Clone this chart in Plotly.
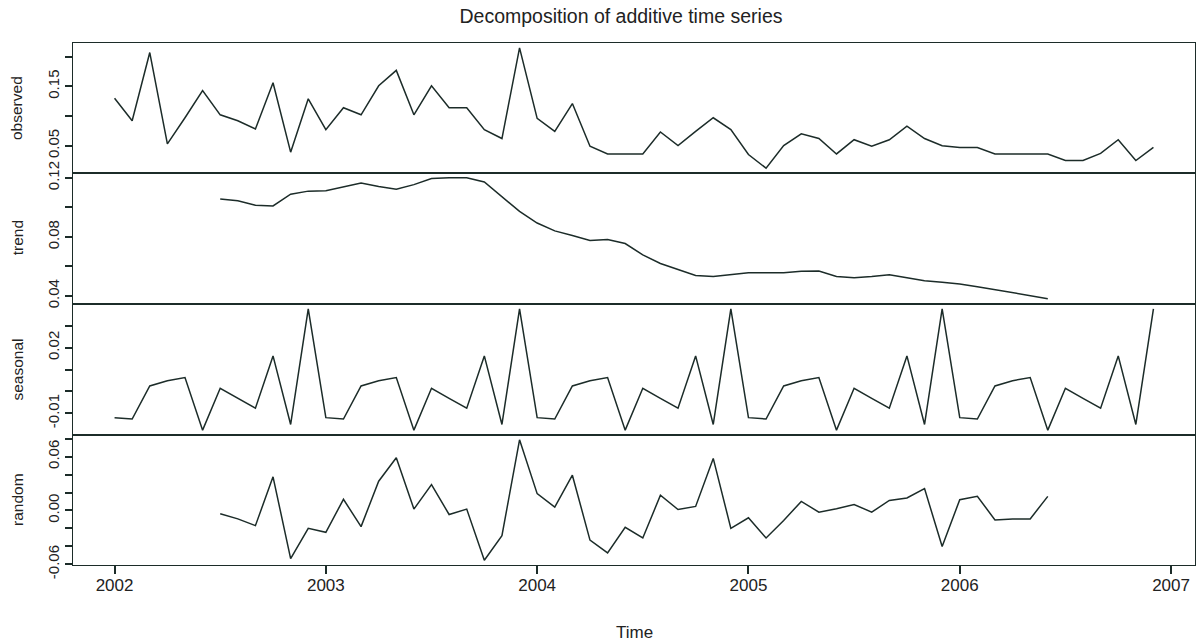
import plotly.graph_objects as go
from plotly.subplots import make_subplots

# Monthly series, January 2002 .. December 2006
START_YEAR = 2002
FREQUENCY = 12

observed = [
    0.130, 0.092, 0.207, 0.053, 0.097, 0.143, 0.102, 0.092, 0.078, 0.156, 0.039, 0.129,
    0.077, 0.114, 0.102, 0.151, 0.177, 0.102, 0.151, 0.114, 0.114, 0.077, 0.062, 0.215,
    0.096, 0.074, 0.121, 0.049, 0.036, 0.036, 0.036, 0.073, 0.050, 0.074, 0.097, 0.077,
    0.035, 0.012, 0.050, 0.070, 0.062, 0.036, 0.060, 0.049, 0.060, 0.083, 0.062, 0.050,
    0.047, 0.047, 0.036, 0.036, 0.036, 0.036, 0.025, 0.025, 0.037, 0.060, 0.025, 0.047,
]

# centred moving average: undefined for the first and last six months
trend = [None] * 6 + [
    0.1056, 0.1045, 0.1015, 0.1010, 0.1089, 0.1110,
    0.1112, 0.1140, 0.1165, 0.1142, 0.1123, 0.1154, 0.1195, 0.1200, 0.1200, 0.1172, 0.1072, 0.0973,
    0.0894, 0.0841, 0.0810, 0.0776, 0.0783, 0.0755, 0.0678, 0.0620, 0.0579, 0.0539, 0.0532, 0.0546,
    0.0558, 0.0558, 0.0558, 0.0567, 0.0569, 0.0532, 0.0523, 0.0532, 0.0544, 0.0523, 0.0504, 0.0493,
    0.0481, 0.0463, 0.0444, 0.0425, 0.0405, 0.0382,
] + [None] * 6

seasonal = [
    -0.0120, -0.0126, 0.0025, 0.0049, 0.0063, -0.0177, 0.0014, -0.0032, -0.0077, 0.0162, -0.0151, 0.0377,
    -0.0120, -0.0126, 0.0025, 0.0049, 0.0063, -0.0177, 0.0014, -0.0032, -0.0077, 0.0162, -0.0151, 0.0377,
    -0.0120, -0.0126, 0.0025, 0.0049, 0.0063, -0.0177, 0.0014, -0.0032, -0.0077, 0.0162, -0.0151, 0.0377,
    -0.0120, -0.0126, 0.0025, 0.0049, 0.0063, -0.0177, 0.0014, -0.0032, -0.0077, 0.0162, -0.0151, 0.0377,
    -0.0120, -0.0126, 0.0025, 0.0049, 0.0063, -0.0177, 0.0014, -0.0032, -0.0077, 0.0162, -0.0151, 0.0377,
]

random = [None] * 6 + [
    -0.0037, -0.0094, -0.0169, 0.0375, -0.0536, -0.0199,
    -0.0243, 0.0124, -0.0180, 0.0326, 0.0588, 0.0015, 0.0288, -0.0045, 0.0015, -0.0554, -0.0281, 0.0787,
    0.0187, 0.0037, 0.0393, -0.0330, -0.0472, -0.0187, -0.0307, 0.0169, 0.0011, 0.0045, 0.0580, -0.0199,
    -0.0082, -0.0307, -0.0112, 0.0101, -0.0019, 0.0019, 0.0067, -0.0019, 0.0112, 0.0139, 0.0243, -0.0401,
    0.0120, 0.0157, -0.0105, -0.0094, -0.0094, 0.0157,
] + [None] * 6

panel_names = ["observed", "trend", "seasonal", "random"]
panel_series = [observed, trend, seasonal, random]

# y ticks per panel, with the labels that are printed
y_tickvals = [
    [0.05, 0.10, 0.15, 0.20],
    [0.04, 0.06, 0.08, 0.10, 0.12],
    [-0.01, 0.00, 0.01, 0.02, 0.03],
    [-0.06, -0.04, -0.02, 0.00, 0.02, 0.04, 0.06, 0.08],
]
y_ticktext = [
    ["0.05", "", "0.15", ""],
    ["0.04", "", "0.08", "", "0.12"],
    ["-0.01", "", "", "0.02", ""],
    ["-0.06", "", "", "0.00", "", "", "0.06", ""],
]
x_tickvals = [2002, 2003, 2004, 2005, 2006, 2007]

times = [START_YEAR + k / FREQUENCY for k in range(len(observed))]

W, H = 1200, 643
INK = "#1c2c29"
TEXT = "#222222"
FONT = "Liberation Sans, Arial, sans-serif"

# panel geometry in pixels (top, bottom)
left_px, right_px = 73, 1195
panel_px = [(43, 173), (173, 303.5), (304, 435), (435, 565)]


def fy(px):
    return 1 - px / H


def padded(vals, frac=0.04):
    v = [x for x in vals if x is not None]
    lo, hi = min(v), max(v)
    d = (hi - lo) * frac
    return [lo - d, hi + d]


fig = make_subplots(rows=4, cols=1, shared_xaxes=True, vertical_spacing=0)

for r, (name, series) in enumerate(zip(panel_names, panel_series), start=1):
    fig.add_trace(
        go.Scatter(x=times, y=series, mode="lines", name=name,
                   line=dict(color=INK, width=1.5), connectgaps=False,
                   showlegend=False, hoverinfo="x+y"),
        row=r, col=1,
    )

t0 = times[0]
t1 = times[-1]
xpad = (t1 - t0) * 0.04
x_range = [t0 - xpad, t1 + xpad]

annotations = []
for i in range(4):
    top, bot = panel_px[i]
    ya = "yaxis" if i == 0 else f"yaxis{i + 1}"
    xa = "xaxis" if i == 0 else f"xaxis{i + 1}"
    fig.layout[ya].update(
        domain=[fy(bot), fy(top)],
        range=padded(panel_series[i]),
        automargin=False,
        tickvals=y_tickvals[i], ticktext=y_ticktext[i],
        tickangle=-90, ticks="outside", ticklen=7, tickwidth=1.5, tickcolor=INK,
        showline=True, mirror=True, linecolor=INK, linewidth=1.4,
        showgrid=False, zeroline=False,
        tickfont=dict(family=FONT, size=15, color=TEXT),
    )
    last = i == 3
    fig.layout[xa].update(
        domain=[left_px / W, right_px / W],
        range=x_range,
        automargin=False,
        showline=True, mirror=True, linecolor=INK, linewidth=1.4,
        showgrid=False, zeroline=False,
        tickvals=x_tickvals if last else [],
        ticks="outside" if last else "", ticklen=8, tickwidth=1.5, tickcolor=INK,
        ticklabelstandoff=-4,
        showticklabels=last,
        tickfont=dict(family=FONT, size=17, color=TEXT),
    )
    annotations.append(dict(
        text=panel_names[i], textangle=-90, showarrow=False,
        xref="paper", yref="paper", x=17 / W, y=fy((top + bot) / 2),
        xanchor="center", yanchor="middle",
        font=dict(family=FONT, size=15.5, color=TEXT),
    ))

annotations.append(dict(
    text="Time", showarrow=False, xref="paper", yref="paper",
    x=(left_px + right_px) / 2 / W, y=fy(632), xanchor="center", yanchor="middle",
    font=dict(family=FONT, size=17, color=TEXT),
))

fig.update_layout(
    width=W, height=H,
    margin=dict(l=0, r=0, t=0, b=0),
    paper_bgcolor="white", plot_bgcolor="white",
    title=dict(text="Decomposition of additive time series",
               x=621 / W, xanchor="center",
               y=fy(16), yanchor="middle", automargin=False,
               font=dict(family=FONT, size=19.5, color=TEXT)),
    annotations=annotations,
    showlegend=False,
)

fig.write_html("out.html")
